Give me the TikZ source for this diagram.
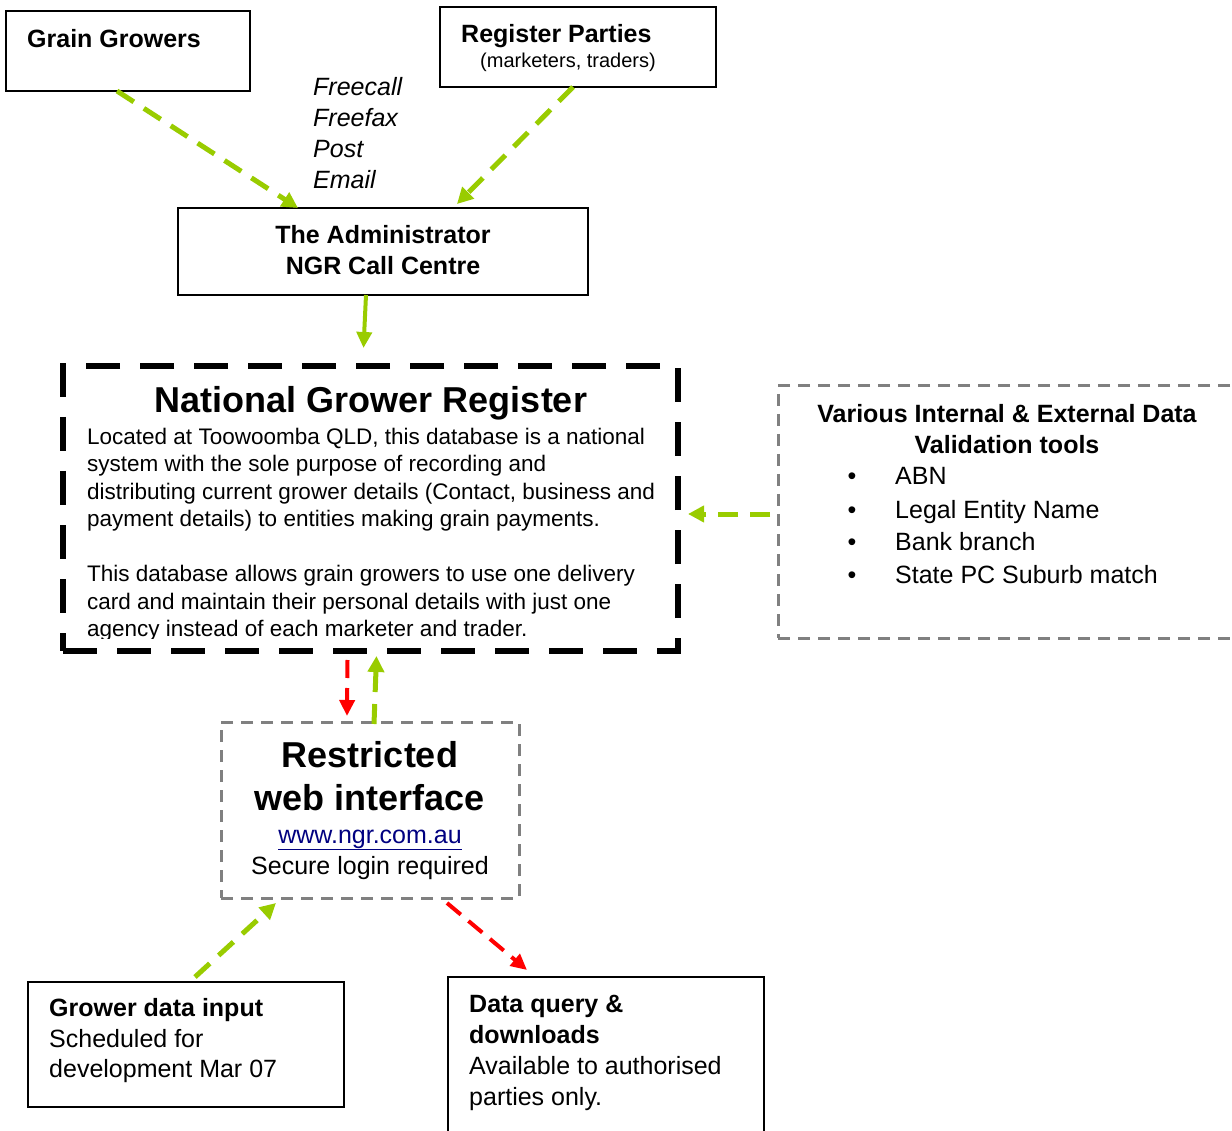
\documentclass[tikz,border=0pt]{standalone}
\usepackage{fontspec}
\setmainfont{Liberation Sans}
\usepackage{xcolor}
\usepackage{tikz}
\usetikzlibrary{arrows.meta, positioning}
\definecolor{LeafGreen}{HTML}{99CC00}
\definecolor{AlertRed}{HTML}{FF0000}
\definecolor{FrameGray}{HTML}{808080}
\definecolor{LinkNavy}{HTML}{000080}

\tikzset{
  plainbox/.style={draw=black, line width=2pt, inner sep=0pt, outer sep=0pt, anchor=north west},
  greybox/.style={draw=FrameGray, line width=3pt, dash pattern=on 12pt off 8pt, inner sep=0pt, outer sep=0pt, anchor=north west},
  regbox/.style={draw=black, line width=6pt, dash pattern=on 34pt off 20pt, inner sep=0pt, outer sep=0pt, anchor=north west},
  txt/.style={inner sep=0pt, anchor=north west, align=left},
  greenflow/.style={draw=LeafGreen, line width=5pt, dash pattern=on 20pt off 12pt, -{Triangle[length=16pt,width=16pt]}},
  redflow/.style={draw=AlertRed, line width=4pt, dash pattern=on 18pt off 10pt, -{Triangle[length=16pt,width=15pt]}},
}
\newcommand{\szbody}{\fontsize{25}{31}\selectfont}
\newcommand{\szbig}{\fontsize{36}{43}\selectfont}

\begin{document}
\begin{tikzpicture}[x=1pt, y=-1pt]
  \useasboundingbox (0,0) rectangle (1232,1131);

  % boxes
  \node[plainbox, minimum width=244pt, minimum height=80pt] (growers) at (6,11) {};
  \node[plainbox, minimum width=276pt, minimum height=80pt] (parties) at (440,7) {};
  \node[plainbox, minimum width=410pt, minimum height=87pt] (admin) at (178,208) {};
  \node[regbox, minimum width=615pt, minimum height=285pt] (ngr) at (63,366) {};
  \node[greybox, minimum width=470pt, minimum height=252pt] (tools) at (778,386) {};
  \node[greybox, minimum width=298pt, minimum height=176pt] (web) at (221,722) {};
  \node[plainbox, minimum width=316pt, minimum height=125pt] (gdi) at (28,982) {};
  \node[plainbox, minimum width=316pt, minimum height=170pt] (dq) at (448,977) {};

  % texts
  \node[txt, font=\szbody\bfseries] (growers-t) at (27,25.3) {\strut Grain Growers};
  \node[inner sep=0pt, anchor=base west, font=\szbody\bfseries] (parties-t) at (461,43) {Register Parties};
  \node[inner sep=0pt, anchor=base west, font=\fontsize{20}{24}\selectfont] (parties-s) at (480,68) {(marketers, traders)};
  \node[txt, font=\szbody\itshape] (channels) at (313,73.3) {\strut Freecall\\Freefax\\Post\\Email};
  \node[txt, anchor=north, align=center, font=\szbody\bfseries] (admin-t) at (383,221.3)
    {\strut The Administrator\\NGR Call Centre};
  \node[inner sep=0pt, anchor=base, font=\szbig\bfseries] (ngr-t) at (371,413) {National Grower Register};
  \begin{scope}
    \clip (63,366) rectangle (678,638);
    \node[txt, font=\fontsize{22.5}{27.5}\selectfont] (ngr-b) at (87,424.75) {\strut
      Located at Toowoomba QLD, this database is a national\\
      system with the sole purpose of recording and\\
      distributing current grower details (Contact, business and\\
      payment details) to entities making grain payments.\\[27.5pt]
      This database allows grain growers to use one delivery\\
      card and maintain their personal details with just one\\
      agency instead of each marketer and trader.};
  \end{scope}
  \node[txt, anchor=north, align=center, font=\szbody\bfseries] (tools-t) at (1007,400.3)
    {\strut Various Internal \& External Data\\Validation tools};
  \foreach \y/\item [count=\i] in {485/ABN, 518/Legal Entity Name, 550/Bank branch, 583/State PC Suburb match}{
    \node[inner sep=0pt, anchor=base, font=\szbody] (dot-\i) at (852,\y) {\textbullet};
    \node[inner sep=0pt, anchor=base west, font=\szbody] (item-\i) at (895,\y) {\item};
  }
  \node[txt, anchor=north, align=center, font=\szbig\bfseries] (web-t) at (370,736.9)
    {\strut Restricted\\web interface};
  \node[inner sep=0pt, anchor=base, font=\szbody, text=LinkNavy] (web-url) at (370,843) {\underline{www.ngr.com.au}};
  \node[inner sep=0pt, anchor=base, font=\szbody] (web-s) at (370,874) {Secure login required};
  \node[txt, font=\fontsize{25}{30.5}\selectfont] (gdi-t) at (49,995.3)
    {\strut\textbf{Grower data input}\\Scheduled for\\development Mar 07};
  \node[txt, font=\fontsize{25}{31}\selectfont] (dq-t) at (469,990.3)
    {\strut\textbf{Data query \&}\\\textbf{downloads}\\Available to authorised\\parties only.};

  % connectors
  \draw[greenflow] ([xshift=-11pt]growers.south) -- ([xshift=-85pt]admin.north);
  \draw[greenflow] ([xshift=-5pt]parties.south) -- ([shift={(74,-4)}]admin.north);
  \draw[draw=LeafGreen, line width=4pt, -{Triangle[length=16pt,width=15pt]}]
    ([xshift=-17pt]admin.south) -- ([shift={(-7,-18)}]ngr.north);
  \draw[greenflow] ([shift={(-8,2)}]tools.west) -- ([shift={(10,5.5)}]ngr.east);
  \draw[redflow] ([shift={(-23,9)}]ngr.south) -- ([shift={(-23,-6)}]web.north);
  \draw[greenflow] ([shift={(4,2)}]web.north) -- ([shift={(6,5)}]ngr.south);
  \draw[greenflow] ([shift={(9,-5)}]gdi.north) -- ([shift={(-94,5)}]web.south);
  \draw[redflow] ([shift={(77,5)}]web.south) -- ([shift={(-79,-7)}]dq.north);
\end{tikzpicture}
\end{document}
